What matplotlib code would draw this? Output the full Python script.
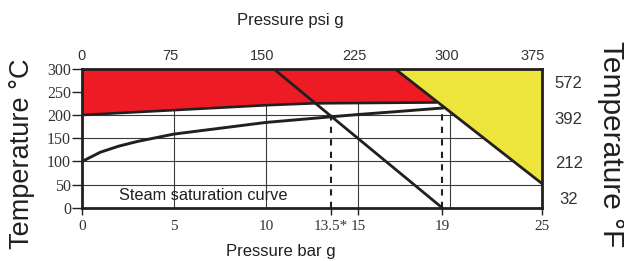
import matplotlib

matplotlib.use("Agg")
import matplotlib.pyplot as plt  # noqa: E402

INK = "#231f20"
RED = "#ed1c24"
YELLOW = "#ede43c"
SERIF = ["Liberation Serif", "DejaVu Serif"]
SANS = ["Liberation Sans", "DejaVu Sans"]

# steam saturation curve (bar g, degC)
sat_bar = [0, 1, 2, 3, 5, 7, 10, 13.5, 15, 17, 19.6]
sat_temp = [100, 120, 133, 143, 159, 169, 184, 196, 201, 207, 215]

# lower edge of the red zone
red_edge_bar = [0, 5, 10, 12.5, 19.3]
red_edge_temp = [200, 210.5, 221, 225, 227]

# red zone corners along the top, yellow zone triangle
red_top_bar = [19.3, 17.0, 0, 0]
red_top_temp = [227, 300, 300, 200]
yellow_bar = [17.0, 25, 25]
yellow_temp = [300, 300, 53]

# straight limit lines (bar g, degC)
limit_a_bar = [10.4, 19.6]
limit_a_temp = [300, 0]
limit_b_bar = [17.0, 25]
limit_b_temp = [300, 53]

# dashed drop lines
drop_bar = [13.55, 19.6]
drop_temp = [196, 215]

# axes ticks
bar_ticks = [0, 5, 10, 13.55, 15, 19.6, 25]
bar_labels = ["0", "5", "10", "13.5*", "15", "19", "25"]
grid_bar = [5, 10, 15, 20]
temp_ticks = [0, 50, 100, 150, 200, 250, 300]
psi_pos = [0, 4.8, 9.8, 14.8, 19.85, 24.5]
psi_labels = ["0", "75", "150", "225", "300", "375"]
f_pos = [21, 98.5, 193, 271.5]
f_labels = ["32", "212", "392", "572"]

fig = plt.figure(figsize=(6.24, 2.61), dpi=100)
ax = fig.add_axes([0.1314, 0.2031, 0.7367, 0.5344])
ax.set_xlim(0, 25)
ax.set_ylim(0, 300)

# grid
for gx in grid_bar:
    ax.axvline(gx, color="#3a3a3a", lw=0.8, zorder=1)
for gy in temp_ticks[1:-1]:
    ax.axhline(gy, color="#3a3a3a", lw=0.8, zorder=1)

# filled zones
ax.fill(red_edge_bar + red_top_bar, red_edge_temp + red_top_temp,
        color=RED, lw=0, zorder=2)
ax.fill(yellow_bar, yellow_temp, color=YELLOW, lw=0, zorder=2)

ax.plot(red_edge_bar, red_edge_temp, color=INK, lw=1.9, zorder=4,
        solid_capstyle="butt")
ax.plot(sat_bar, sat_temp, color=INK, lw=2.1, zorder=4)
ax.plot(limit_a_bar, limit_a_temp, color=INK, lw=2.0, zorder=4)
ax.plot(limit_b_bar, limit_b_temp, color=INK, lw=2.0, zorder=4)
for xb, tt in zip(drop_bar, drop_temp):
    ax.plot([xb, xb], [0, tt], color=INK, lw=1.5, dashes=(3, 3), zorder=4)

ax.text(2.0, 26, "Steam saturation curve", family=SANS, fontsize=11.8,
        color=INK, va="center", ha="left", zorder=5)

# frame
for side in ["left", "right", "top", "bottom"]:
    ax.spines[side].set_linewidth(2.0)
    ax.spines[side].set_color(INK)
    ax.spines[side].set_zorder(6)

ax.set_xticks(bar_ticks)
ax.set_xticklabels(bar_labels, family=SERIF, fontsize=11, color="#333333")
ax.tick_params(axis="x", length=5, width=1, color=INK, pad=4)
for t, v in zip(ax.xaxis.get_major_ticks(), bar_ticks):
    if v in (5, 10):
        t.tick1line.set_visible(False)
ax.set_yticks(temp_ticks)
ax.set_yticklabels([str(v) for v in temp_ticks], family=SERIF, fontsize=11.5,
                   color="#333333")
ax.tick_params(axis="y", length=7, width=1, color=INK, pad=1)

top = ax.secondary_xaxis("top")
top.set_xticks(psi_pos)
top.set_xticklabels(psi_labels, family=SANS, fontsize=10.5, color="#333333")
top.tick_params(length=0, pad=4)
top.spines["top"].set_visible(False)

right = ax.secondary_yaxis("right")
right.set_yticks(f_pos)
right.set_yticklabels(f_labels, family=SANS, fontsize=12, color="#333333")
right.tick_params(length=0, pad=19.5)
for lbl in right.get_yticklabels():
    lbl.set_horizontalalignment("center")
right.spines["right"].set_visible(False)

fig.text(0.466, 0.923, "Pressure psi g", family=SANS, fontsize=12,
         color=INK, ha="center", va="center")
fig.text(0.450, 0.0345, "Pressure bar g", family=SANS, fontsize=12,
         color=INK, ha="center", va="center")
fig.text(0.0353, 0.41, "Temperature °C", family=SANS, fontsize=19.5,
         color=INK, ha="center", va="center", rotation=90)
fig.text(0.979, 0.448, "Temperature °F", family=SANS, fontsize=21.5,
         color=INK, ha="center", va="center", rotation=270)

fig.savefig("out.png", dpi=100)
